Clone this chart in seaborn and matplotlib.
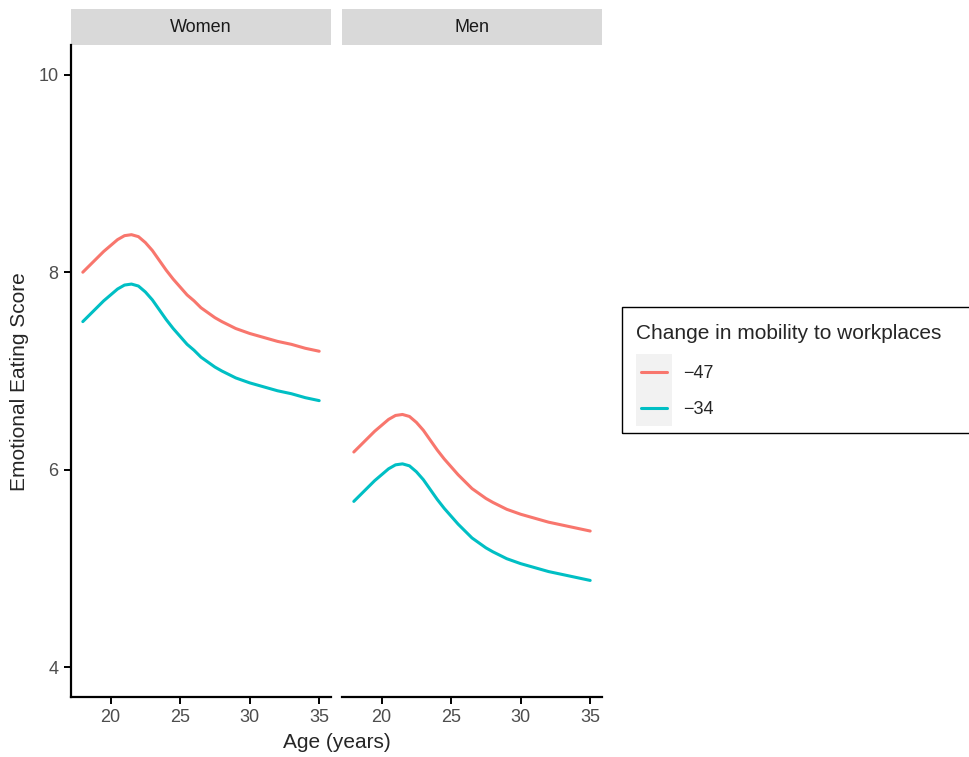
import numpy as np
import pandas as pd
import seaborn as sns
import matplotlib.pyplot as plt
from matplotlib.patches import Rectangle
from matplotlib.lines import Line2D

ages = [18, 18.5, 19, 19.5, 20, 20.5, 21, 21.5, 22, 22.5, 23, 23.5, 24, 24.5, 25, 25.5,
        26, 26.5, 27, 27.5, 28, 29, 30, 31, 32, 33, 34, 35]
women_47 = [8.00, 8.07, 8.14, 8.21, 8.27, 8.33, 8.37, 8.38, 8.36, 8.30, 8.22, 8.12, 8.02, 7.93,
            7.85, 7.77, 7.71, 7.64, 7.59, 7.54, 7.50, 7.43, 7.38, 7.34, 7.30, 7.27, 7.23, 7.20]
women_34 = [7.50, 7.57, 7.64, 7.71, 7.77, 7.83, 7.87, 7.88, 7.86, 7.80, 7.72, 7.62, 7.52, 7.43,
            7.35, 7.27, 7.21, 7.14, 7.09, 7.04, 7.00, 6.93, 6.88, 6.84, 6.80, 6.77, 6.73, 6.70]
men_47 = [6.18, 6.25, 6.32, 6.39, 6.45, 6.51, 6.55, 6.56, 6.54, 6.48, 6.40, 6.30, 6.20, 6.11,
          6.03, 5.95, 5.88, 5.81, 5.76, 5.71, 5.67, 5.60, 5.55, 5.51, 5.47, 5.44, 5.41, 5.38]
men_34 = [5.68, 5.75, 5.82, 5.89, 5.95, 6.01, 6.05, 6.06, 6.04, 5.98, 5.90, 5.80, 5.70, 5.61,
          5.53, 5.45, 5.38, 5.31, 5.26, 5.21, 5.17, 5.10, 5.05, 5.01, 4.97, 4.94, 4.91, 4.88]
panels = ["Women", "Men"]
groups = ["\u221247", "\u221234"]
colors = ["#F8766D", "#00BFC4"]

rows = []
for panel, s47, s34 in [("Women", women_47, women_34), ("Men", men_47, men_34)]:
    for g, vals in zip(groups, [s47, s34]):
        for a, v in zip(ages, vals):
            rows.append({"Sex": panel, "Age": a, "Score": v, "Mobility": g})
df = pd.DataFrame(rows)

sns.set_style("white")
plt.rcParams['font.family'] = ['Liberation Sans', 'DejaVu Sans']

W, H = 969, 757
fig = plt.figure(figsize=(W / 100, H / 100), dpi=100)

bottom = 1 - 697 / H
height = (697 - 45) / H
lefts = [71 / W, 342 / W]
width = 260 / W
LW = 2.2

for i, panel in enumerate(panels):
    ax = fig.add_axes([lefts[i], bottom, width, height])
    sub = df[df["Sex"] == panel]
    sns.lineplot(data=sub, x="Age", y="Score", hue="Mobility", hue_order=groups,
                 palette=colors, linewidth=LW, ax=ax, legend=False)
    for ln in ax.lines:
        ln.set_solid_joinstyle("round")
    ax.set_xlim(17.15, 35.85)
    ax.set_ylim(3.7, 10.3)
    ax.set_xticks([20, 25, 30, 35])
    ax.set_yticks([4, 6, 8, 10])
    ax.set_xlabel("")
    ax.set_ylabel("")
    for side in ["top", "right"]:
        ax.spines[side].set_visible(False)
    for side in ["bottom", "left"]:
        ax.spines[side].set_linewidth(1.6)
        ax.spines[side].set_color("black")
    ax.tick_params(axis="both", which="major", direction="out", length=5, width=1.4,
                   color="black", labelsize=13, labelcolor="#4D4D4D", pad=4)
    if i == 1:
        ax.spines["left"].set_visible(False)
        ax.tick_params(axis="y", left=False, labelleft=False)
    else:
        ax.tick_params(axis="y", left=True)
    ax.tick_params(axis="x", bottom=True)
    # facet strip
    strip_h = 36 / (697 - 45)
    ax.add_patch(Rectangle((0, 1), 1, strip_h, transform=ax.transAxes,
                           facecolor="#D9D9D9", edgecolor="none", clip_on=False))
    ax.text(0.5, 1 + strip_h / 2, panel, transform=ax.transAxes, ha="center",
            va="center", fontsize=13, color="#1A1A1A")

fig.text((71 + 602) / 2 / W, 1 - 742 / H, "Age (years)", ha="center", va="center", fontsize=15)
fig.text(20 / W, 1 - 382 / H, "Emotional Eating Score", ha="center", va="center",
         rotation=90, fontsize=15)


class KeyHandler:
    """grey ggplot-style key box with a short coloured line"""
    def legend_artist(self, legend, orig_handle, fontsize, handlebox):
        x0, y0 = -handlebox.xdescent, -handlebox.ydescent
        w, h = handlebox.width, handlebox.height
        rect = Rectangle((x0, y0), w, h, facecolor="#F2F2F2", edgecolor="none",
                         transform=handlebox.get_transform())
        mid = y0 + h / 2
        line = Line2D([x0 + 0.14 * w, x0 + 0.86 * w], [mid, mid], color=orig_handle.get_color(),
                      linewidth=LW, transform=handlebox.get_transform())
        handlebox.add_artist(rect)
        handlebox.add_artist(line)
        return line


# legend frame runs off the right edge, as in the reference
fig.patches.append(Rectangle((622 / W, 1 - 433 / H), 400 / W, 126 / H, transform=fig.transFigure,
                             fill=False, edgecolor="black", linewidth=1.0))

handles = [Line2D([], [], color=c) for c in colors]
leg = fig.legend(handles, groups, title="Change in mobility to workplaces",
                 loc="upper left", bbox_to_anchor=(636 / W, 1 - 324 / H),
                 handler_map={Line2D: KeyHandler()},
                 fontsize=13, title_fontsize=15, frameon=False,
                 handlelength=2.0, handleheight=2.69, labelspacing=0.0,
                 handletextpad=0.59, borderpad=0, borderaxespad=0)
leg._legend_box.align = "left"
leg._legend_box.sep = 8

fig.savefig("out.png", dpi=100)
